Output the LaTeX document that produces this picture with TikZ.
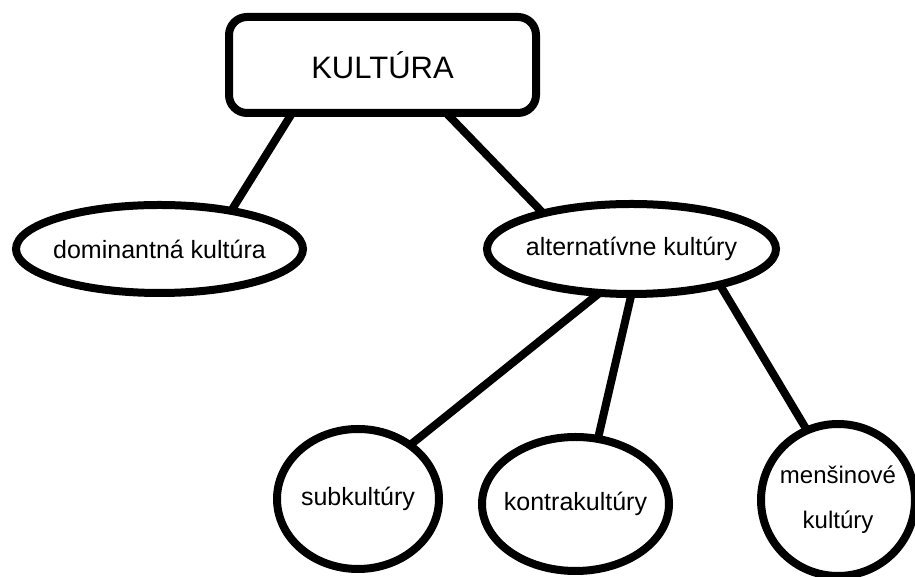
\documentclass[tikz,border=0pt]{standalone}
\usepackage{fontspec}
\setmainfont{Liberation Sans}
\usetikzlibrary{positioning}
\usetikzlibrary{shapes.geometric}

\begin{document}
\begin{tikzpicture}[
  x=1pt, y=1pt,
  font=\fontsize{25}{30}\selectfont,
  topbox/.style={draw, line width=8pt, rounded corners=18pt, outer sep=0pt, minimum width=307pt, minimum height=96pt, font=\fontsize{31}{37}\selectfont},
  oval/.style={draw, ellipse, line width=8pt, outer sep=0pt, inner sep=0pt},
  link/.style={line width=8pt}
]
\clip (0,0) rectangle (915,577);
\node[topbox] (kultura) at (382.5,512) {KULTÚRA};
\node[oval, minimum width=287pt, minimum height=88pt, below=92pt of kultura, xshift=-223pt, label=center:dominantná kultúra] (dominant) {};
\node[oval, minimum width=289pt, minimum height=90pt, below=91pt of kultura, xshift=249pt, label=center:alternatívne kultúry] (alternativ) {};

\node[oval, minimum width=162pt, minimum height=140pt, below=135pt of alternativ, xshift=-273.5pt, label=center:subkultúry] (subkult) {};
\node[oval, minimum width=187pt, minimum height=134pt, below=143pt of alternativ, xshift=-56pt, label=center:kontrakultúry] (kontrakult) {};
\node[oval, minimum width=154pt, minimum height=152pt, below=130pt of alternativ, xshift=206.5pt, label={[align=center, font=\fontsize{24}{45}\selectfont]center:menšinové\\kultúry}] (mensin) {};

\draw[link] (kultura.208) -- (dominant.28);
\draw[link] (kultura.323) -- (alternativ.158);
\draw[link] (alternativ.234) -- (subkult.46);
\draw[link] (alternativ.270) -- (kontrakult.71);
\draw[link] (alternativ.338) -- (mensin.114);

\end{tikzpicture}
\end{document}
